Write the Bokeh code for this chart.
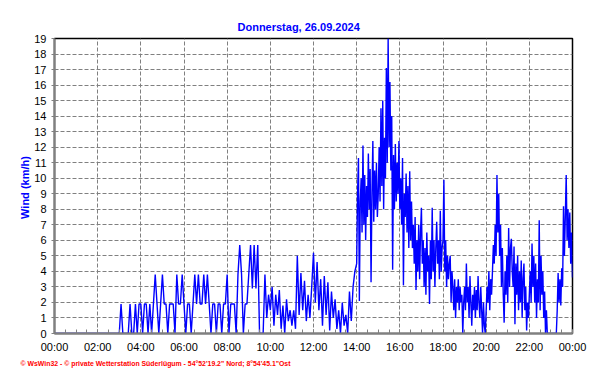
import numpy as np
from bokeh.plotting import figure
from bokeh.models import FixedTicker, Title
from bokeh.embed import file_html
from bokeh.resources import INLINE

title_text = "Donnerstag, 26.09.2024"
y_label = "Wind  (km/h)"
footer_text = "\u00a9 WsWin32  -  \u00a9 private Wetterstation S\u00fcderl\u00fcgum  -  54\u00b052'19.2\" Nord; 8\u00b054'45.1\"Ost"
x_ticks = [0, 2, 4, 6, 8, 10, 12, 14, 16, 18, 20, 22, 24]
x_tick_labels = ["00:00", "02:00", "04:00", "06:00", "08:00", "10:00", "12:00",
                 "14:00", "16:00", "18:00", "20:00", "22:00", "00:00"]
y_ticks = list(range(0, 20))

# wind speed (km/h), 00:00-14:00 in 5-minute samples
wind_00_06 = [0]*12 + [0]*12 + [0]*12 + \
    [0, 1.9, 0, 0, 0, 0, 1.9, 0, 0, 1.9, 0, 1.9] + \
    [1.9, 0, 1.9, 1.9, 0, 1.9, 0, 1.9, 3.8, 1.9, 0, 1.9] + \
    [3.8, 1.9, 1.9, 0, 1.9, 1.9, 1.9, 0, 3.8, 1.9, 1.9, 3.8]
wind_06_12 = [1.9, 0, 1.9, 1.9, 0, 1.9, 3.8, 1.9, 3.8, 1.9, 1.9, 3.8] + \
    [1.9, 3.8, 1.9, 0, 1.9, 1.9, 0, 1.9, 1.9, 0, 1.9, 1.9] + \
    [3.8, 0, 1.9, 1.9, 1.9, 0, 3.8, 5.7, 3.8, 0, 1.9, 1.9] + \
    [3.8, 5.7, 2.9, 5.7, 2.9, 5.7, 0, 0, 0, 3.8, 1.0, 2.5] + \
    [1.5, 3.0, 0.5, 2.5, 1.2, 2.8, 0.3, 1.8, 0, 2.2, 0.8, 1.5] + \
    [0.5, 1.5, 0.3, 5.0, 1.2, 3.9, 1.5, 3.4, 0.8, 2.5, 1.0, 3.0]
wind_12_14 = [5.2, 2.0, 4.6, 1.5, 3.5, 0.5, 3.7, 1.2, 3.3, 0.2, 2.7, 1.0] + \
    [2.2, 0.3, 1.5, 0, 2.0, 0.5, 1.2, 0, 2.7, 0.8, 3.0, 4.0]

# wind speed (km/h), 14:00-24:00 in 2.5-minute samples
wind_14_18 = [4.5, 9.0, 11.3, 2.1, 8.5, 10.0, 6.5, 12.1, 7.0, 10.2, 6.0, 9.5,
              7.5, 11.6, 8.0, 10.6, 3.3, 9.0, 12.4, 7.2, 10.5, 8.0, 11.0, 7.5] + \
    [9.0, 12.0, 8.5, 14.5, 9.5, 15.0, 8.0, 12.6, 10.0, 17.1, 11.0, 19.0,
     12.0, 16.2, 10.5, 14.0, 4.1, 11.5, 8.0, 12.2, 8.5, 11.0, 9.0, 12.4] + \
    [8.0, 10.0, 7.0, 11.3, 3.1, 9.0, 7.5, 10.3, 6.5, 9.5, 5.5, 10.45,
     6.0, 8.5, 5.5, 7.0, 4.5, 7.5, 2.8, 6.0, 4.0, 7.0, 3.5, 6.5] + \
    [8.1, 4.5, 6.0, 3.0, 5.5, 2.5, 6.5, 4.0, 5.0, 1.9, 6.0, 3.5,
     8.1, 4.0, 6.0, 3.0, 5.5, 7.2, 4.5, 6.0, 3.5, 7.9, 4.0, 5.5]
wind_18_24 = [6.0, 9.9, 4.0, 6.0, 3.0, 5.0, 3.5, 4.5, 5.0, 2.0, 4.0, 3.0,
              1.5, 3.5, 1.0, 3.0, 2.0, 3.5, 1.5, 3.0, 2.0, 2.5, 0, 2.0] + \
    [3.0, 1.5, 4.5, 2.0, 3.0, 1.0, 3.7, 2.0, 0.5, 2.5, 1.5, 3.0,
     1.0, 2.8, 1.5, 3.7, 2.0, 1.0, 3.0, 1.5, 0, 2.0, 0.5, 0] + \
    [1.5, 3.0, 2.0, 4.0, 1.5, 3.5, 2.5, 4.0, 5.7, 4.5, 7.0, 5.0,
     10.2, 6.5, 9.0, 5.0, 7.0, 3.0, 5.5, 2.5, 0.7, 4.0, 2.5, 5.0] + \
    [2.0, 6.8, 3.0, 5.5, 6.1, 4.0, 3.0, 5.6, 0.6, 4.5, 2.5, 5.0,
     1.5, 4.0, 2.0, 4.7, 1.0, 3.5, 4.5, 1.5, 3.0, 0.2, 2.0, 1.0] + \
    [2.5, 4.0, 2.0, 5.8, 3.0, 5.0, 2.0, 4.5, 1.0, 3.5, 2.0, 7.3,
     1.5, 5.0, 2.5, 4.0, 1.0, 2.7, 0, 1.5, 0, 0, 0, 0] + \
    [0, 0, 0, 0, 0, 0, 0, 1.5, 3.9, 2.0, 3.5, 1.8,
     4.2, 3.0, 8.2, 5.0, 7.5, 10.2, 6.0, 8.0, 5.5, 7.8, 4.5, 6.5] + [3.6]

wind_a = wind_00_06 + wind_06_12 + wind_12_14
wind_b = wind_14_18 + wind_18_24
hours_a = np.arange(len(wind_a)) * 5.0 / 60.0
hours_b = 14.0 + np.arange(len(wind_b)) * 2.5 / 60.0
hours = np.concatenate([hours_a, hours_b])
wind = wind_a + wind_b

FONT = "Liberation Sans"
BLUE = "#0000ff"
GRAY = "#808080"

p = figure(width=592, height=384, x_range=(0, 24), y_range=(0, 19),
           output_backend="svg", toolbar_location=None,
           min_border_left=54, min_border_right=20, min_border_top=38, min_border_bottom=51)
p.background_fill_color = "white"
p.border_fill_color = "white"
p.outline_line_color = "black"
p.outline_line_width = 1.5

p.line(hours, wind, line_color=BLUE, line_width=1.4)

p.xaxis.ticker = FixedTicker(ticks=x_ticks, minor_ticks=[i * 0.5 for i in range(49)])
p.xaxis.major_label_overrides = {t: l for t, l in zip(x_ticks, x_tick_labels)}
p.yaxis.ticker = FixedTicker(ticks=y_ticks, minor_ticks=[])

for ax in (p.xaxis[0], p.yaxis[0]):
    ax.axis_line_color = GRAY
    ax.axis_line_width = 2
    ax.major_tick_line_color = GRAY
    ax.minor_tick_line_color = GRAY
    ax.major_label_text_font = FONT
    ax.major_label_text_font_size = "11px"
    ax.major_label_text_color = "black"

p.xaxis.major_tick_in = 4
p.xaxis.major_tick_out = 0
p.xaxis.minor_tick_in = 4
p.xaxis.minor_tick_out = 0
p.xaxis.major_label_standoff = 7
p.yaxis.major_tick_in = 0
p.yaxis.major_tick_out = 3
p.yaxis.major_label_standoff = 5

p.yaxis.axis_label = y_label
p.yaxis.axis_label_text_font = FONT
p.yaxis.axis_label_text_font_size = "11px"
p.yaxis.axis_label_text_font_style = "bold"
p.yaxis.axis_label_text_color = BLUE
p.yaxis.axis_label_standoff = 0

p.grid.grid_line_color = GRAY
p.grid.grid_line_dash = "4 2"
p.grid.grid_line_width = 1

p.title.text = title_text
p.title.align = "left"
p.title.offset = 183
p.title.standoff = 12
p.title.text_font = FONT
p.title.text_font_size = "11px"
p.title.text_font_style = "bold"
p.title.text_color = BLUE

footer = Title(text=footer_text, align="left", offset=-34, standoff=4,
               text_font=FONT, text_font_size="6.9px", text_font_style="bold",
               text_color="#ff0000")
p.add_layout(footer, "below")

open("out.html", "w").write(file_html(p, INLINE))
